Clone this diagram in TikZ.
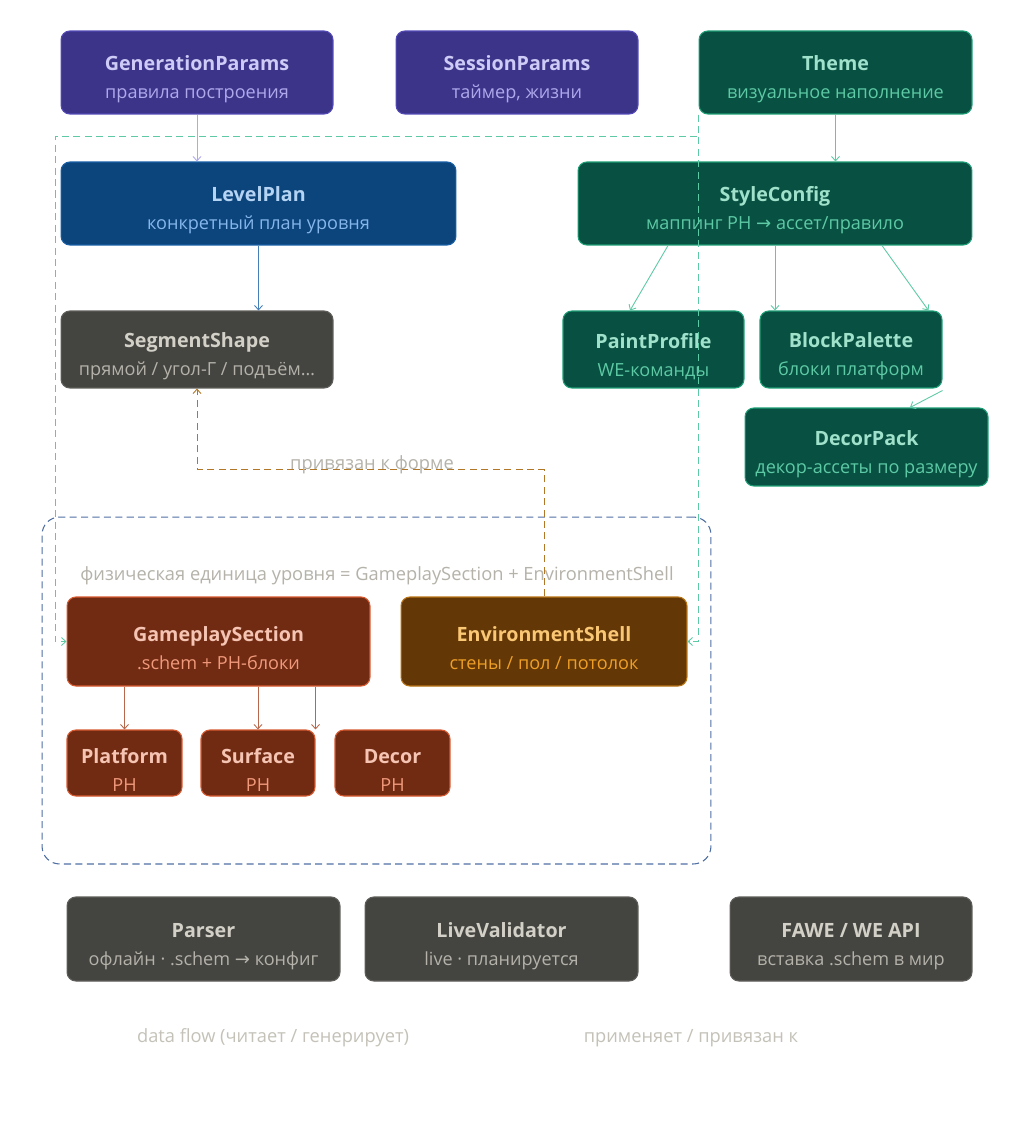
\documentclass[tikz,border=0pt]{standalone}
\usepackage{fontspec}
\setmainfont{Open Sans}
\newfontfamily\symf{DejaVu Sans}
\usetikzlibrary{arrows.meta,calc}

\definecolor{purFill}{HTML}{3C3489}\definecolor{purLine}{HTML}{534AB7}
\definecolor{purT}{HTML}{CECBF6}\definecolor{purS}{HTML}{AFA9EC}
\definecolor{bluFill}{HTML}{0C447C}\definecolor{bluLine}{HTML}{185FA5}
\definecolor{bluT}{HTML}{B5D4F4}\definecolor{bluS}{HTML}{85B7EB}
\definecolor{grnFill}{HTML}{085041}\definecolor{grnLine}{HTML}{1D9E75}
\definecolor{grnT}{HTML}{9FE1CB}\definecolor{grnS}{HTML}{5DCAA5}
\definecolor{gryFill}{HTML}{444441}\definecolor{gryLine}{HTML}{5F5E5A}
\definecolor{gryT}{HTML}{D3D1C7}\definecolor{gryS}{HTML}{B4B2A9}
\definecolor{crlFill}{HTML}{712B13}\definecolor{crlLine}{HTML}{D85A30}
\definecolor{crlT}{HTML}{F5C4B3}\definecolor{crlS}{HTML}{F0997B}
\definecolor{ambFill}{HTML}{633806}\definecolor{ambLine}{HTML}{BA7517}
\definecolor{ambT}{HTML}{FAC775}\definecolor{ambS}{HTML}{EF9F27}
\definecolor{unitLine}{HTML}{4F6FA3}
\definecolor{noteGray}{HTML}{C4C2B8}

\newcommand{\twoline}[2]{\rule{0pt}{16.5pt}\textbf{#1}\\{\fontsize{10.3}{16}\selectfont\color{subc}#2}}
\newcommand{\arr}{{\symf →}}

\tikzset{
  box/.style={rounded corners=5pt, line width=0.6pt, align=center, inner sep=0pt,
    font=\fontsize{11.2}{16}\selectfont},
  purplebox/.style={box, fill=purFill, draw=purLine, text=purT,
    execute at begin node={\colorlet{subc}{purS}}},
  bluebox/.style={box, fill=bluFill, draw=bluLine, text=bluT,
    execute at begin node={\colorlet{subc}{bluS}}},
  greenbox/.style={box, fill=grnFill, draw=grnLine, text=grnT,
    execute at begin node={\colorlet{subc}{grnS}}},
  graybox/.style={box, fill=gryFill, draw=gryLine, text=gryT,
    execute at begin node={\colorlet{subc}{gryS}}},
  coralbox/.style={box, fill=crlFill, draw=crlLine, text=crlT,
    execute at begin node={\colorlet{subc}{crlS}}},
  amberbox/.style={box, fill=ambFill, draw=ambLine, text=ambT,
    execute at begin node={\colorlet{subc}{ambS}}},
  flow/.style={->, line width=0.5pt},
  bound/.style={->, line width=0.5pt, dash pattern=on 4pt off 2.5pt},
  note/.style={text=noteGray, font=\fontsize{10.4}{12}\selectfont, inner sep=1pt},
}

\begin{document}
\begin{tikzpicture}[x=0.02cm, y=-0.02cm, >={Straight Barb[length=2.5pt,width=4.5pt]}]
\useasboundingbox[fill=white] (0,0) rectangle (1034,1126);
% ---------- parameters ----------
\node[purplebox, minimum width=5.44cm, minimum height=1.66cm] (gen) at (197,72.5)
  {\twoline{GenerationParams}{правила построения}};
\node[purplebox, minimum width=4.84cm, minimum height=1.66cm] (sess) at (517,72.5)
  {\twoline{SessionParams}{таймер, жизни}};
\node[greenbox, minimum width=5.46cm, minimum height=1.66cm] (thm) at (835.5,72.5)
  {\twoline{Theme}{визуальное наполнение}};
% ---------- plan / style ----------
\node[bluebox, minimum width=7.90cm, minimum height=1.66cm] (lp) at (258.5,203.5)
  {\twoline{LevelPlan}{конкретный план уровня}};
\node[greenbox, minimum width=7.88cm, minimum height=1.66cm] (sc) at (775,203.5)
  {\twoline{StyleConfig}{маппинг PH \arr{} ассет/правило}};
\node[graybox, minimum width=5.44cm, minimum height=1.54cm] (ss) at (197,349.5)
  {\twoline{SegmentShape}{прямой / угол-Г / подъём…}};
\node[greenbox, minimum width=3.62cm, minimum height=1.54cm] (pp) at (653.5,349.5)
  {\twoline{PaintProfile}{WE-команды}};
\node[greenbox, minimum width=3.64cm, minimum height=1.54cm] (bp) at (851,349.5)
  {\twoline{BlockPalette}{блоки платформ}};
\node[greenbox, minimum width=4.86cm, minimum height=1.56cm] (dp) at (866.5,447)
  {\twoline{DecorPack}{декор-ассеты по размеру}};
% ---------- physical unit ----------
\node[draw=unitLine, line width=0.6pt, dash pattern=on 4pt off 2.5pt, rounded corners=10pt,
  minimum width=13.38cm, minimum height=6.94cm] (unit) at (376.5,690.5) {};
\node[note, text=gryS] (unitlbl) at (377,576)
  {физическая единица уровня = GameplaySection + EnvironmentShell};
\node[coralbox, minimum width=6.06cm, minimum height=1.78cm] (gs) at (218.5,641.5)
  {\twoline{GameplaySection}{.schem + PH-блоки}};
\node[amberbox, minimum width=5.72cm, minimum height=1.78cm] (es) at (544,641.5)
  {\twoline{EnvironmentShell}{стены / пол / потолок}};
\node[coralbox, minimum width=2.30cm, minimum height=1.32cm] (pf) at (124.5,763)
  {\twoline{Platform}{PH}};
\node[coralbox, minimum width=2.28cm, minimum height=1.32cm] (sf) at (258,763)
  {\twoline{Surface}{PH}};
\node[coralbox, minimum width=2.30cm, minimum height=1.32cm] (dc) at (392.5,763)
  {\twoline{Decor}{PH}};
% ---------- tools ----------
\node[graybox, minimum width=5.46cm, minimum height=1.68cm] (parser) at (203.5,939)
  {\twoline{Parser}{офлайн · .schem \arr{} конфиг}};
\node[graybox, minimum width=5.46cm, minimum height=1.68cm] (lv) at (501.5,939)
  {\twoline{LiveValidator}{live · планируется}};
\node[graybox, minimum width=4.84cm, minimum height=1.68cm] (fawe) at (851,939)
  {\twoline{FAWE / WE API}{вставка .schem в мир}};
% ---------- legend ----------
\node[note] (lgflow) at (273,1038) {data flow (читает / генерирует)};
\node[note] (lgbind) at (691,1038) {применяет / привязан к};
% ---------- data flow ----------
\draw[flow, purS] (gen.south) -- (gen.south |- lp.north);
\draw[flow, bluLine!80!white] (lp.south) -- (lp.south |- ss.north);
\draw[flow, grnS] (thm.south) -- (thm.south |- sc.north);
\draw[flow, grnS] ([xshift=-2.14cm]sc.south) -- ([xshift=-0.47cm]pp.north);
\draw[flow, grnS] (sc.south) -- (sc.south |- bp.north);
\draw[flow, grnS] ([xshift=2.14cm]sc.south) -- ([xshift=-0.28cm]bp.north east);
\draw[flow, grnS] ([yshift=-0.04cm]bp.south east) -- ([xshift=0.87cm]dp.north);
\draw[flow, crlS!55!crlFill] (gs.south -| pf.north) -- (pf.north);
\draw[flow, crlS!55!crlFill] (gs.south -| sf.north) -- (sf.north);
\draw[flow, crlS!55!crlFill] (gs.south -| sf.north east) -- (sf.north east);
% ---------- binding ----------
\coordinate (bendA) at (55,136);
\draw[bound, grnS] (thm.south west) |- (bendA) |- (gs.west);
\draw[bound, grnS] (thm.south west) |- (es.east);
\draw[bound, ambLine!85!gray] (es.north) -- ++(0,-127) -| (ss.south);
\node[note, text=gryS] (bindlbl) at (372,465) {привязан к форме};
\end{tikzpicture}
\end{document}
